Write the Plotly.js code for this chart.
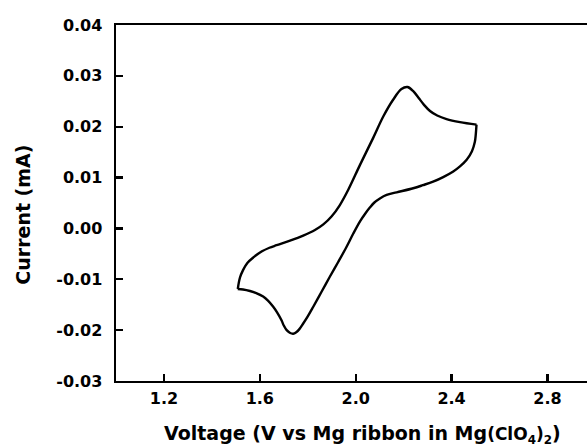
<!DOCTYPE html>
<html>
<head>
<meta charset="utf-8">
<script src="https://cdn.plot.ly/plotly-3.0.1.min.js"></script>
<style>
html,body{margin:0;padding:0;background:#fff;overflow:hidden;}
#chart{width:587px;height:448px;}
</style>
</head>
<body>
<div id="chart"></div>
<script>
// Forward (anodic) scan: left vertex -> right vertex, upper branch
const forwardVoltage = [1.508, 1.517, 1.530, 1.548, 1.573, 1.609, 1.640, 1.670, 1.726, 1.781, 1.830, 1.865, 1.900, 1.934, 1.969, 2.018, 2.073, 2.115, 2.156, 2.191, 2.216, 2.240, 2.262, 2.285, 2.310, 2.340, 2.379, 2.435, 2.504];
const forwardCurrent = [-0.0119, -0.0097, -0.0082, -0.0068, -0.0057, -0.0045, -0.0038, -0.0033, -0.0024, -0.0014, -0.0003, 0.0008, 0.0024, 0.0046, 0.0076, 0.0125, 0.0178, 0.0220, 0.0253, 0.0274, 0.0278, 0.0270, 0.0257, 0.0243, 0.0231, 0.0222, 0.0215, 0.0209, 0.0204];
// Reverse (cathodic) scan: right vertex -> left vertex, lower branch
const reverseVoltage = [2.504, 2.501, 2.497, 2.485, 2.463, 2.435, 2.407, 2.365, 2.323, 2.280, 2.240, 2.171, 2.129, 2.101, 2.078, 2.059, 2.038, 2.018, 1.990, 1.962, 1.927, 1.892, 1.857, 1.823, 1.800, 1.781, 1.765, 1.752, 1.739, 1.725, 1.712, 1.700, 1.691, 1.672, 1.656, 1.634, 1.614, 1.585, 1.559, 1.530, 1.508];
const reverseCurrent = [0.0204, 0.0185, 0.0170, 0.0152, 0.0135, 0.0122, 0.0112, 0.0101, 0.0092, 0.0085, 0.0079, 0.0071, 0.0066, 0.0059, 0.0051, 0.0041, 0.0028, 0.0014, -0.0010, -0.0036, -0.0066, -0.0095, -0.0125, -0.0154, -0.0173, -0.0187, -0.0198, -0.0204, -0.0207, -0.0205, -0.0200, -0.0191, -0.0181, -0.0165, -0.0154, -0.0142, -0.0134, -0.0127, -0.0123, -0.0120, -0.0119];

const xTickVals = [1.2, 1.6, 2.0, 2.4, 2.8];
const xTickText = ["1.2", "1.6", "2.0", "2.4", "2.8"];
const yTickVals = [-0.03, -0.02, -0.01, 0.00, 0.01, 0.02, 0.03, 0.04];
const yTickText = ["-0.03", "-0.02", "-0.01", "0.00", "0.01", "0.02", "0.03", "0.04"];

const xTitle = 'Voltage (V vs Mg ribbon in Mg<span style="font-size:17px">(ClO<sub>4</sub>)<sub>2</sub></span>)';
const yTitle = 'Current (mA)';

const lineStyle = {color: '#000', width: 2.4, shape: 'spline', smoothing: 1};
const traces = [
  {x: forwardVoltage, y: forwardCurrent, mode: 'lines', line: lineStyle, hoverinfo: 'skip'},
  {x: reverseVoltage, y: reverseCurrent, mode: 'lines', line: lineStyle, hoverinfo: 'skip'}
];

const fontFam = '"DejaVu Sans", Arial, sans-serif';
const layout = {
  width: 587, height: 448,
  margin: {l: 116, r: 0, t: 25, b: 67, pad: 0},
  paper_bgcolor: '#fff', plot_bgcolor: '#fff',
  showlegend: false,
  font: {family: fontFam, color: '#000', size: 16, weight: 'bold'},
  xaxis: {
    range: [1.0, 2.965],
    tickmode: 'array', tickvals: xTickVals, ticktext: xTickText,
    ticks: 'inside', ticklen: 7, tickwidth: 2.2, tickcolor: '#000',
    showline: true, linewidth: 2.4, linecolor: '#000', mirror: true,
    showgrid: false, zeroline: false,
    tickfont: {family: fontFam, size: 16, color: '#000', weight: 'bold'},
    ticklabelstandoff: 1
  },
  yaxis: {
    range: [-0.03, 0.04],
    tickmode: 'array', tickvals: yTickVals, ticktext: yTickText,
    ticks: 'inside', ticklen: 7, tickwidth: 2.2, tickcolor: '#000',
    showline: true, linewidth: 2.4, linecolor: '#000', mirror: false,
    showgrid: false, zeroline: false,
    tickfont: {family: fontFam, size: 16, color: '#000', weight: 'bold'},
    ticklabelstandoff: 8
  },
  annotations: [
    {text: xTitle, xref: 'x', yref: 'paper', x: 2.028, y: 0, xanchor: 'center', yanchor: 'top', yshift: -39,
     showarrow: false, font: {family: fontFam, size: 19, color: '#000', weight: 'bold'}},
    {text: yTitle, xref: 'paper', yref: 'y', x: 0, y: 0.0027, xanchor: 'center', yanchor: 'middle', xshift: -93,
     textangle: -90, showarrow: false, font: {family: fontFam, size: 19, color: '#000', weight: 'bold'}}
  ]
};

Plotly.newPlot('chart', traces, layout, {staticPlot: true, displayModeBar: false});
</script>
</body>
</html>
